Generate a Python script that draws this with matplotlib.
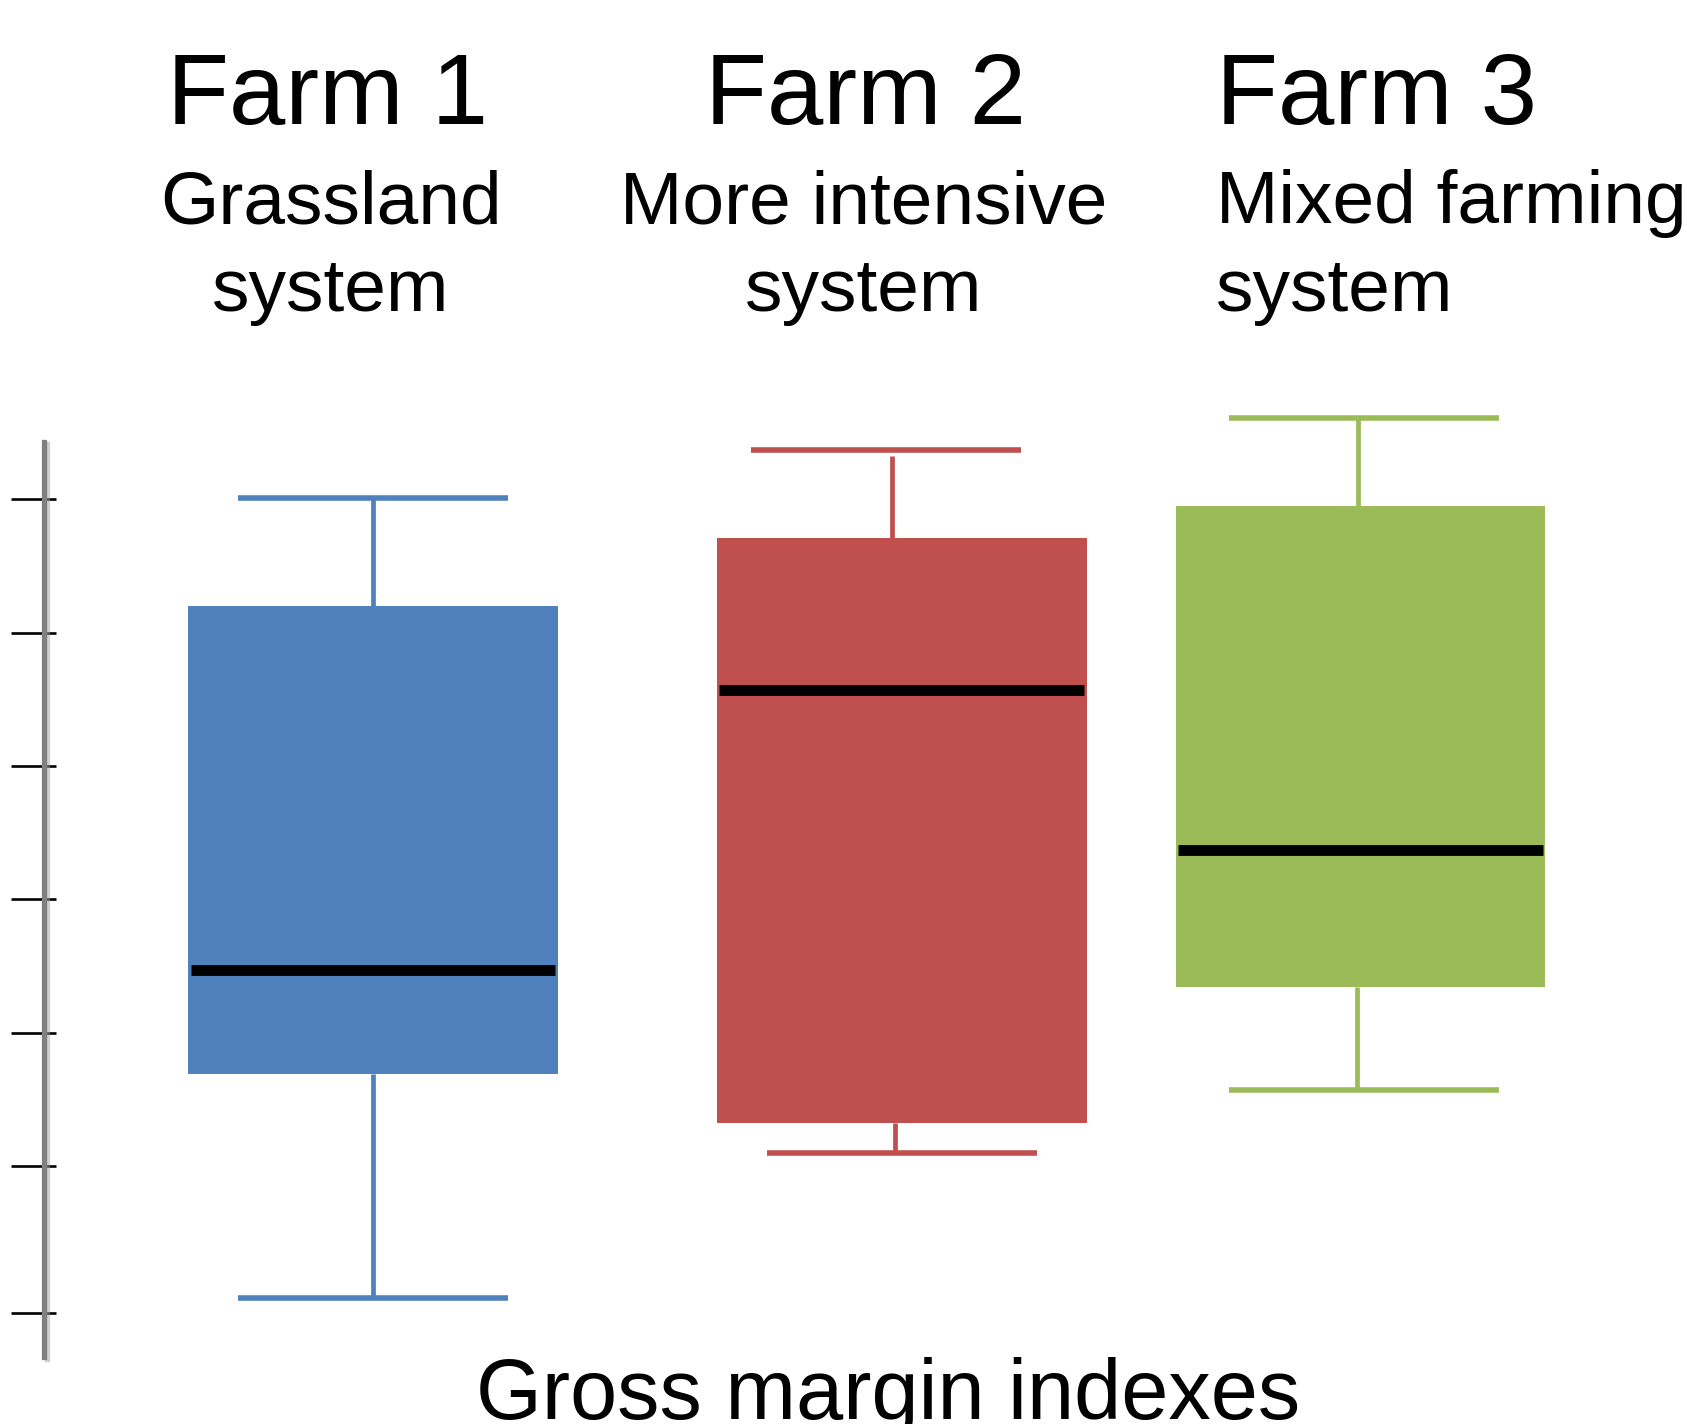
import matplotlib
matplotlib.use('Agg')
import matplotlib.pyplot as plt
import matplotlib.patheffects as pe
from matplotlib.ticker import FixedLocator

# box statistics (arbitrary index units)
farms = ['Farm 1', 'Farm 2', 'Farm 3']
systems = [['Grassland', 'system'], ['More intensive', 'system'], ['Mixed farming', 'system']]
whisker_hi = [6.01, 6.37, 6.61]
q3 = [5.20, 5.71, 5.95]
medians = [2.47, 4.57, 3.37]
q1 = [1.69, 1.32, 2.34]
whisker_lo = [0.01, 1.10, 1.57]
ytick_vals = [-0.1, 1, 2, 3, 4, 5, 6]
xlabel = 'Gross margin indexes'

colors = ['#4F81BD', '#C0504D', '#9BBB59']

# layout
positions = [1.0, 2.0, 2.8685]
box_w = 0.70
cap_w = 0.511
cap_shift = [0.0, -0.030, 0.006]
lo_cap_shift = [0.0, 0.0, 0.006]
whisk_shift = [0.0, -0.018, -0.004]
lo_whisk_shift = [0.0, -0.012, -0.006]
top_gap = [0.0, 0.045, 0.0]

W, H = 1687, 1424
fig = plt.figure(figsize=(W / 100, H / 100), dpi=100)
ax = fig.add_axes([0, 0, 1, 1])
ax.set_xlim(0.2934, 3.4866)
ax.set_ylim(-0.933, 9.742)

for i in range(3):
    x = positions[i]
    c = colors[i]
    ax.bar(x, q3[i] - q1[i], bottom=q1[i], width=box_w, color=c, zorder=2)
    ax.hlines(medians[i], x - box_w / 2 * 0.985, x + box_w / 2 * 0.985,
              color='black', lw=7.8, zorder=3)
    # whiskers
    ax.vlines(x + whisk_shift[i], q3[i], whisker_hi[i] - top_gap[i], color=c, lw=3.4, zorder=1)
    ax.vlines(x + lo_whisk_shift[i], whisker_lo[i], q1[i], color=c, lw=3.4, zorder=1)
    # caps
    cx = x + cap_shift[i]
    ax.hlines(whisker_hi[i], cx - cap_w / 2, cx + cap_w / 2, color=c, lw=4.0, zorder=1)
    lx = x + lo_cap_shift[i]
    ax.hlines(whisker_lo[i], lx - cap_w / 2, lx + cap_w / 2, color=c, lw=4.0, zorder=1)

# axis: only the left spine, with ticks crossing it
for s in ['top', 'right', 'bottom']:
    ax.spines[s].set_visible(False)
ax.spines['left'].set_position(('data', 0.3775))
ax.spines['left'].set_bounds(-0.427, 6.427)
ax.spines['left'].set_color('#808080')
ax.spines['left'].set_linewidth(3.8)
ax.spines['left'].set_path_effects([pe.SimpleLineShadow(offset=(1.5, -1.5), shadow_color='#a0a0a0', alpha=0.5), pe.Normal()])
ax.set_xticks([])
ax.yaxis.set_major_locator(FixedLocator(ytick_vals))
ax.yaxis.set_minor_locator(FixedLocator(ytick_vals))
ax.yaxis.remove_overlapping_locs = False
ax.tick_params(axis='y', which='major', direction='out', length=23.8, width=1.9, color='black', labelleft=False)
ax.tick_params(axis='y', which='minor', direction='in', length=8.6, width=1.9, color='black', labelleft=False)
ax.patch.set_visible(False)

font = 'Liberation Sans'
# headers
title_x = [328, 866, 1216]
title_ha = ['center', 'center', 'left']
sub_x = [331, 864, 1216]
for i in range(3):
    fig.text(title_x[i] / W, 1 - 124 / H, farms[i], ha=title_ha[i], va='baseline',
             fontsize=73, family=font)
    fig.text(sub_x[i] / W, 1 - 223 / H, systems[i][0], ha=title_ha[i], va='baseline',
             fontsize=54, family=font)
    fig.text(sub_x[i] / W, 1 - 311 / H, systems[i][1], ha=title_ha[i], va='baseline',
             fontsize=54, family=font)

fig.text(888 / W, 1 - 1419 / H, xlabel, ha='center', va='baseline', fontsize=61, family=font)

fig.savefig('out.png', dpi=100, facecolor='white')
